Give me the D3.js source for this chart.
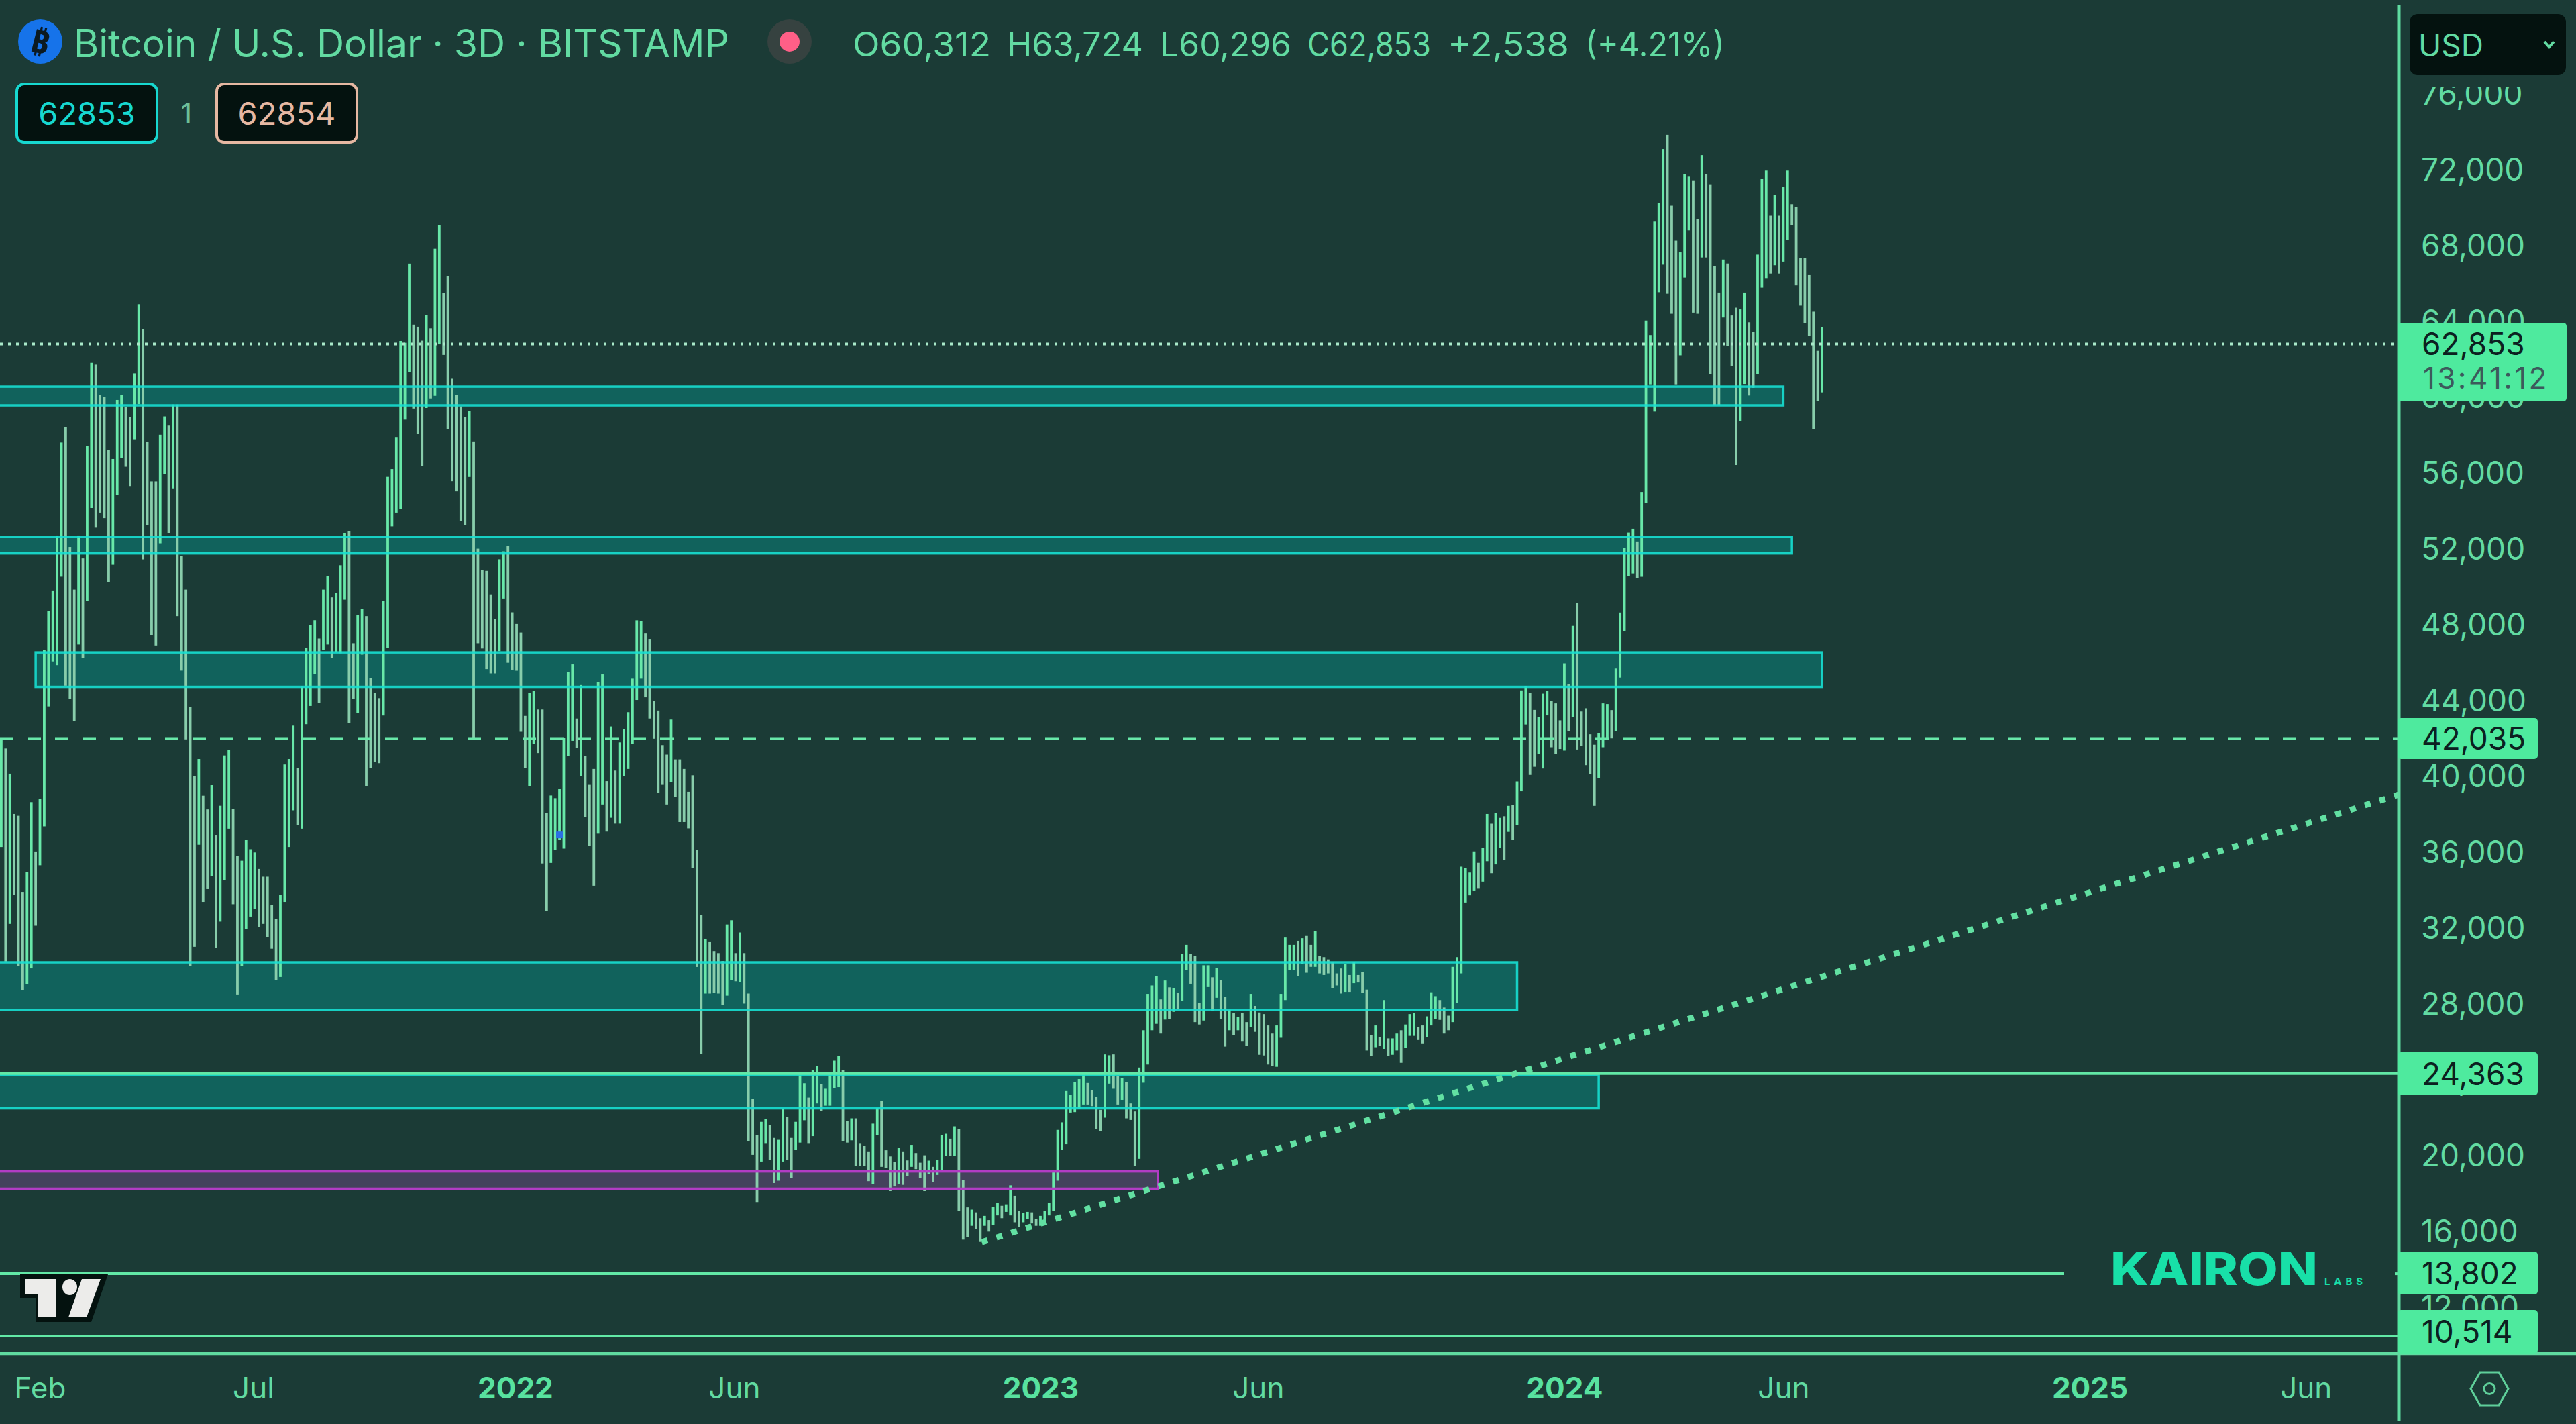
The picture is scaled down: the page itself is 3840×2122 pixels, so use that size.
<!DOCTYPE html>
<html>
<head>
<meta charset="utf-8">
<script src="https://cdn.jsdelivr.net/npm/d3@7"></script>
<style>
  html, body { margin: 0; padding: 0; background: #1b3b36; }
  svg { display: block; }
  text { font-family: Inter, "Noto Sans", sans-serif; }
</style>
</head>
<body>
<div class="chart_contain"></div>
<script>
// 3D bars, highs and lows, oldest first
var highs = [
  41990,41510,40180,38055,37960,33945,34985,38680,36075,38850,46705,48755,49845,52745,57650,58470,52140,49890,52745,51535,
  57455,61850,61755,60160,60040,57260,56780,59895,60160,59510,58975,61295,64945,63615,57700,55595,55595,58060,59025,58540,
  59655,59655,51655,49890,43685,40060,40955,39020,38295,39575,36920,38490,41145,41435,38320,35830,35590,36675,36195,36025,
  35155,34745,34745,33245,32520,33780,40665,40955,42715,40495,44770,46825,48030,48275,47310,49890,50620,49480,49725,51175,
  52865,52985,47065,48565,48880,48490,45205,44455,44165,49290,55835,56245,57940,63010,
  62915,67085,63865,63755,63025,64370,63670,67870,69130,65545,66415,61010,60170,59555,58995,59300,57705,52050,50930,50875,
  49640,48325,51490,51910,52190,48690,48075,47625,43230,44435,44545,43565,43565,38105,39030,38890,39395,42055,45555,45945,
  43090,44855,41130,39590,40430,44995,45415,39785,42670,40345,41830,42530,43425,45190,48270,48215,47570,47290,44015,43510,
  41690,41185,43035,40935,40935,40430,39225,40095,36175,32730,31470,31330,30825,30715,30295,32225,32450,30715,31805,30715,28585,
  23035,21120,21815,21975,21660,20965,20865,22525,22060,20965,21815,24315,23850,23095,24560,24765,23790,23560,24315,25045,
  25290,24535,21855,22000,22000,20660,20535,20255,21720,22550,22915,20315,19990,19685,20450,20255,19780,20600,20170,19660,
  20050,19770,19440,19805,21120,21185,20925,21575,21450,18735,17305,17185,17040,16735,16855,16635,17345,17550,17390,17465,
  18465,17915,17125,17000,17065,17040,16695,16855,17125,17525,19195,21390,21790,23440,23245,23915,24070,24315,23865,23500,
  23120,22450,25375,25330,25375,24220,24110,23915,22790,22365,24680,
  26645,28565,29010,29510,28275,29270,28910,28875,28615,30675,31155,30675,30555,28100,30075,30075,29440,29940,29305,28410,
  27725,27555,27330,27555,27075,28565,27930,27585,27500,26900,26470,26900,28565,31535,31155,31155,31365,31500,31620,31155,
  31875,30555,30505,30385,30245,29645,29905,30125,29560,30245,29560,29730,28790,26385,26900,26300,28240,26215,26215,26470,
  26645,26950,27500,27555,26815,26900,27380,28650,28445,28240,27845,27415,29990,30505,35275,35190,34965,36080,35480,36255,
  38055,37540,38090,37850,37935,38485,38535,39770,44575,44800,44440,43545,43170,44405,44540,44025,43890,42995,46000,44885,
  47975,49175,43460,43630,42260,41710,42310,43890,43855,
  43535,45725,48680,52105,52900,53100,52430,55040,
  64080,63320,69300,70280,73130,73880,70140,68300,67680,71810,71670,71480,69430,72810,71790,71270,66970,65560,67300,67090,
  64350,64760,64670,65560,63990,63490,67560,71550,71990,69610,70690,69610,71140,71990,70220,70080,67390,67390,66480,64550,
  62490,63724
];
var lows = [
  36315,30275,32255,33780,30035,28775,29065,29910,32160,35350,37400,43730,46100,45905,50570,44820,44120,42960,46995,46270,
  49290,54195,53155,53950,53660,50280,51200,54870,56850,56370,55355,57820,59680,51485,53300,47500,46945,52335,55980,52865,
  55230,48490,45615,41990,30035,31050,36435,33415,34090,34795,31000,32375,34575,37280,33295,28535,30035,31965,32640,33055,
  32085,32255,31555,30950,29310,29455,33415,36315,38250,37475,37280,42790,43755,45425,43925,46705,46995,46270,46585,46535,
  49360,42840,44120,43370,46460,39530,40495,40785,40735,43250,46825,53225,53950,54145,
  58855,61345,59440,58100,56390,59470,59975,60115,62830,62270,58350,55605,55075,53505,53280,55830,42055,47065,46785,45695,
  45470,45470,46645,49420,46030,45665,45610,42390,40485,39535,41745,41270,35445,32955,35475,36145,36705,36230,41130,41915,
  41550,40065,37910,36370,34270,37015,38555,37125,37855,37545,37545,40065,40430,41745,44070,45190,44210,43090,42025,39170,
  39590,38555,39730,38945,37630,37630,37295,35195,29985,25400,28585,28585,28615,28585,27970,28475,29285,29230,29175,28055,20780,
  20075,17585,19720,20660,19805,18585,18710,19720,19805,18855,20330,20720,21900,20660,21060,22790,22400,22670,22670,23585,
  23645,20780,20720,20840,19500,19500,19500,18685,18525,21120,19440,19380,18160,18405,18550,18490,18950,19440,19320,18855,
  18160,19075,18650,19015,19220,20025,20025,20010,17125,15600,15720,16330,16150,15480,16330,16025,16390,16880,16735,17065,
  16880,16515,16270,16515,16695,16455,16330,16330,16575,16880,17125,18710,20330,20635,22305,22330,22485,22730,22730,22645,
  21450,21330,22035,23830,23560,22730,22975,22000,21915,19500,19865,
  23880,24840,26645,26985,26470,27210,27245,27620,27760,28190,29820,29100,27075,26950,27160,28925,27675,28360,27245,25785,
  26645,26385,26645,26045,25835,26815,26560,25355,25320,24840,24755,24720,26250,28240,29820,29820,29510,30160,29680,29990,
  29990,29645,29560,29645,28875,29010,28585,28670,28670,29130,29165,28615,25580,25305,25750,25820,25665,25305,25355,25580,
  24930,25735,26350,26350,26130,25955,26300,26900,27245,27195,26470,26645,27075,28100,29645,33385,33765,34020,34110,34485,
  35565,34930,35395,36255,35620,37110,36680,37455,39255,42775,40115,40545,41230,40455,43255,41575,41230,41485,41400,42430,
  43170,41455,41660,40630,40165,38485,39945,41575,42000,
  42045,42420,45250,47685,50615,50740,50490,50565,
  54470,60720,59280,65580,67030,65500,64440,60720,62250,66350,68840,64500,64440,67410,67410,61250,59600,59600,64240,62750,
  61700,56460,58770,60740,60130,60540,61270,65820,66290,66560,67000,66560,67190,68330,69100,65940,64870,63960,63290,58360,
  59830,60296
];
var lastBar = new Date(2024, 6, 2);
var barDays = 3;

var priceTicks = [76000,72000,68000,64000,60000,56000,52000,48000,44000,40000,36000,32000,28000,24000,20000,16000,12000];
var timeTicks = [
  [new Date(2021,1,3), "Feb"], [new Date(2021,6,2), "Jul"], [new Date(2022,0,1), "2022"], [new Date(2022,5,3), "Jun"],
  [new Date(2023,0,3), "2023"], [new Date(2023,5,4), "Jun"], [new Date(2024,0,4), "2024"], [new Date(2024,5,5), "Jun"],
  [new Date(2025,0,5), "2025"], [new Date(2025,5,5), "Jun"]
];
var tickDates = timeTicks.map(d => d[0]);
var tickNames = timeTicks.map(d => d[1]);

// drawn zones: from, to, top price, bottom price
var zoneFrom = [new Date(2020,5,1), new Date(2020,5,1), new Date(2021,0,31), new Date(2020,5,1), new Date(2020,5,1)];
var zoneTo = [new Date(2024,5,5), new Date(2024,5,11), new Date(2024,6,2), new Date(2023,11,2), new Date(2024,0,28)];
var zoneTop = [60600, 52670, 46580, 30230, 24300];
var zoneBottom = [59610, 51800, 44760, 27715, 22530];
var purpleFrom = new Date(2020,5,1), purpleTo = new Date(2023,2,26), purpleTop = 19200, purpleBottom = 18285;

var lastClose = 62853, lastCountdown = "13:41:12";
var dashedLevel = 42035;
var levels = [24363, 13802, 10514];
var trendDates = [new Date(2022,10,23), new Date(2025,7,9)];
var trendPrices = [15466, 39078];

var ohlcLabels = ["O60,312", "H63,724", "L60,296", "C62,853", "+2,538", "(+4.21%)"];

var svg_width = 3840, svg_height = 2122;
var axisX = 3576, axisY = 2017;
var green = "#68e8a9", greyBar = "#88cdab", labelGreen = "#4eea9e", cyan = "#17dfd2", ink = "#0c2020", boxFill = "#04120f";

var svg = d3.select(".chart_contain")
            .append("svg")
            .attr("width", svg_width)
            .attr("height", svg_height)
            .style("background", "#1b3b36");

var bars = highs.map((h, i) => ({
  date: d3.timeDay.offset(lastBar, -barDays * (highs.length - 1 - i)),
  high: h,
  low: lows[i]
}));

var x = d3.scaleTime()
          .domain([bars[0].date, lastBar])
          .range([1.9, 2716]);

var y = d3.scaleLinear()
          .domain([72000, 10514])
          .range([254, 1991]);

var plot = svg.append("g");

// zone fills go under the bars, their edges on top
plot.selectAll(".zoneFill")
    .data(zoneTop)
    .enter()
    .append("rect")
    .attr("class", "zoneFill")
    .attr("x", (d, i) => x(zoneFrom[i]))
    .attr("y", d => y(d))
    .attr("width", (d, i) => x(zoneTo[i]) - x(zoneFrom[i]))
    .attr("height", (d, i) => y(zoneBottom[i]) - y(d))
    .style("fill", "#11625c");

plot.append("rect")
    .attr("x", x(purpleFrom))
    .attr("y", y(purpleTop))
    .attr("width", x(purpleTo) - x(purpleFrom))
    .attr("height", y(purpleBottom) - y(purpleTop))
    .style("fill", "#43425c");

plot.selectAll(".bar")
    .data(bars)
    .enter()
    .append("rect")
    .attr("class", "bar")
    .attr("x", d => x(d.date) - 1.9)
    .attr("y", d => y(d.high))
    .attr("width", 3.8)
    .attr("height", d => y(d.low) - y(d.high))
    .style("fill", (d, i) => (i > 0 && d.high + d.low < bars[i-1].high + bars[i-1].low) ? greyBar : green);

plot.selectAll(".zoneEdge")
    .data(zoneTop)
    .enter()
    .append("rect")
    .attr("class", "zoneEdge")
    .attr("x", (d, i) => x(zoneFrom[i]))
    .attr("y", d => y(d))
    .attr("width", (d, i) => x(zoneTo[i]) - x(zoneFrom[i]))
    .attr("height", (d, i) => y(zoneBottom[i]) - y(d))
    .style("fill", "none")
    .style("stroke", cyan)
    .style("stroke-width", 3.5)
    .style("stroke-opacity", 0.9);

plot.append("rect")
    .attr("x", x(purpleFrom))
    .attr("y", y(purpleTop))
    .attr("width", x(purpleTo) - x(purpleFrom))
    .attr("height", y(purpleBottom) - y(purpleTop))
    .style("fill", "none")
    .style("stroke", "#b23cc4")
    .style("stroke-width", 3.5);

// little blue marker left on the chart
plot.append("rect")
    .attr("x", x(new Date(2022,1,1)) - 5)
    .attr("y", y(36950) - 5)
    .attr("width", 10)
    .attr("height", 10)
    .style("fill", "#2c6fe3");

// price lines
plot.append("line")
    .attr("x1", 0).attr("x2", axisX)
    .attr("y1", y(lastClose)).attr("y2", y(lastClose))
    .style("stroke", "#a9e9c9")
    .style("stroke-width", 4)
    .style("stroke-dasharray", "4 8");

plot.append("line")
    .attr("x1", 0).attr("x2", axisX)
    .attr("y1", y(dashedLevel)).attr("y2", y(dashedLevel))
    .style("stroke", green)
    .style("stroke-width", 4)
    .style("stroke-dasharray", "20 21");

plot.selectAll(".level")
    .data(levels)
    .enter()
    .append("line")
    .attr("class", "level")
    .attr("x1", 0)
    .attr("x2", d => d == 13802 ? 3077 : axisX)
    .attr("y1", d => y(d))
    .attr("y2", d => y(d))
    .style("stroke", "#62e8a6")
    .style("stroke-width", 4);

plot.append("line")
    .attr("x1", 3570).attr("x2", axisX)
    .attr("y1", y(13802)).attr("y2", y(13802))
    .style("stroke", "#62e8a6")
    .style("stroke-width", 4);

plot.append("path")
    .attr("d", d3.line().x((d, i) => x(trendDates[i])).y(d => y(d))(trendPrices))
    .style("fill", "none")
    .style("stroke", "#62e0a2")
    .style("stroke-width", 9)
    .style("stroke-dasharray", "9 14");

// axes
var yAxis = d3.axisRight(y)
              .tickValues(priceTicks)
              .tickFormat(d3.format(","))
              .tickSize(0)
              .tickPadding(33);

var yAxisG = svg.append("g")
                .attr("class", "y axis")
                .attr("transform", "translate(" + axisX + ",0)")
                .call(yAxis);
yAxisG.select(".domain").remove();
yAxisG.selectAll("text")
      .style("font-size", "46px")
      .style("fill", "#62dba2");

var xAxis = d3.axisBottom(x)
              .tickValues(tickDates)
              .tickFormat((d, i) => tickNames[i])
              .tickSize(0)
              .tickPadding(36);

var xAxisG = svg.append("g")
                .attr("class", "x axis")
                .attr("transform", "translate(0," + axisY + ")")
                .call(xAxis);
xAxisG.select(".domain").remove();
xAxisG.selectAll("text")
      .style("font-size", "44px")
      .style("font-weight", (d, i) => /^\d/.test(tickNames[i]) ? 700 : 400)
      .style("fill", (d, i) => /^\d/.test(tickNames[i]) ? "#58e29f" : "#62dba2");

svg.append("line")
   .attr("x1", axisX).attr("x2", axisX)
   .attr("y1", 7).attr("y2", 2117)
   .style("stroke", "#5fdba0")
   .style("stroke-width", 5);

svg.append("line")
   .attr("x1", 0).attr("x2", svg_width)
   .attr("y1", axisY).attr("y2", axisY)
   .style("stroke", "#5fdba0")
   .style("stroke-width", 4.5);

// price labels on the scale
var tagLevels = [dashedLevel].concat(levels);
var tagTops = [1070, 1568, 1865, 1952];
var tagBottoms = [1131, 1632, 1929, 2017];

svg.selectAll(".tag")
   .data(tagLevels)
   .enter()
   .append("rect")
   .attr("class", "tag")
   .attr("x", axisX - 2)
   .attr("y", (d, i) => tagTops[i])
   .attr("width", 209)
   .attr("height", (d, i) => tagBottoms[i] - tagTops[i])
   .attr("rx", 5)
   .style("fill", labelGreen);

svg.selectAll(".tagText")
   .data(tagLevels)
   .enter()
   .append("text")
   .attr("class", "tagText")
   .attr("x", 3610)
   .attr("y", (d, i) => (tagTops[i] + tagBottoms[i]) / 2)
   .attr("dy", "0.36em")
   .text(d3.format(","))
   .style("font-size", "46px")
   .style("fill", ink);

svg.append("rect")
   .attr("x", axisX - 2).attr("y", 481)
   .attr("width", 252).attr("height", 117)
   .attr("rx", 5)
   .style("fill", labelGreen);

svg.append("text")
   .attr("x", 3610).attr("y", 512).attr("dy", "0.36em")
   .text(d3.format(",")(lastClose))
   .style("font-size", "46px")
   .style("fill", ink);

svg.append("text")
   .attr("x", 3612).attr("y", 563).attr("dy", "0.36em")
   .text(lastCountdown)
   .style("font-size", "44px")
   .style("letter-spacing", "3.4px")
   .style("fill", "#3c5a5c");

// header
svg.append("rect")
   .attr("x", axisX + 3).attr("y", 0)
   .attr("width", 264).attr("height", 129)
   .style("fill", "#1b3b36");

svg.append("rect")
   .attr("x", 3592).attr("y", 21)
   .attr("width", 233).attr("height", 91)
   .attr("rx", 12)
   .style("fill", boxFill);

svg.append("text")
   .attr("x", 3605).attr("y", 67).attr("dy", "0.36em")
   .text("USD")
   .style("font-size", "46px")
   .style("fill", "#62dba2");

svg.append("path")
   .attr("d", "M3793 62 L3800 70 L3807 62")
   .style("fill", "none")
   .style("stroke", "#62dba2")
   .style("stroke-width", 4);

svg.append("circle")
   .attr("cx", 60).attr("cy", 62).attr("r", 33)
   .style("fill", "#1673ea");

svg.append("text")
   .attr("x", 60).attr("y", 62).attr("dy", "0.36em")
   .attr("text-anchor", "middle")
   .attr("transform", "rotate(14 60 62)")
   .text("₿")
   .style("font-family", "'Noto Sans', 'DejaVu Sans', sans-serif")
   .style("font-weight", 700)
   .style("font-size", "48px")
   .style("fill", "#0b1a22");

svg.append("text")
   .attr("x", 110).attr("y", 64).attr("dy", "0.36em")
   .text("Bitcoin / U.S. Dollar · 3D · BITSTAMP")
   .style("font-size", "57px")
   .style("fill", "#62dba2");

svg.append("circle")
   .attr("cx", 1177).attr("cy", 62).attr("r", 33)
   .style("fill", "#364240");

svg.append("circle")
   .attr("cx", 1177).attr("cy", 62).attr("r", 15)
   .style("fill", "#ff5f87");

var ohlcX = [1271, 1501, 1729, 1949, 2158, 2363];
var ohlcWidth = [206, 203, 196, 184, 181, 208];

svg.selectAll(".ohlc")
   .data(ohlcLabels)
   .enter()
   .append("text")
   .attr("class", "ohlc")
   .attr("x", (d, i) => ohlcX[i])
   .attr("y", 66)
   .attr("dy", "0.36em")
   .attr("textLength", (d, i) => ohlcWidth[i])
   .attr("lengthAdjust", "spacingAndGlyphs")
   .text(d => d)
   .style("font-size", "50px")
   .style("fill", "#62dba2");

var boxX = [25, 323], boxLabel = ["62853", "62854"], boxColor = ["#17d8d0", "#e6b8a2"];

svg.selectAll(".quoteBox")
   .data(boxLabel)
   .enter()
   .append("rect")
   .attr("class", "quoteBox")
   .attr("x", (d, i) => boxX[i])
   .attr("y", 125)
   .attr("width", 209)
   .attr("height", 87)
   .attr("rx", 11)
   .style("fill", boxFill)
   .style("stroke", (d, i) => boxColor[i])
   .style("stroke-width", 4);

svg.selectAll(".quoteText")
   .data(boxLabel)
   .enter()
   .append("text")
   .attr("class", "quoteText")
   .attr("x", (d, i) => boxX[i] + 104.5)
   .attr("y", 169)
   .attr("dy", "0.36em")
   .attr("text-anchor", "middle")
   .text(d => d)
   .style("font-size", "47px")
   .style("fill", (d, i) => boxColor[i]);

svg.append("text")
   .attr("x", 278).attr("y", 169).attr("dy", "0.36em")
   .attr("text-anchor", "middle")
   .text("1")
   .style("font-size", "40px")
   .style("fill", "#6fbf99");

// TradingView mark
svg.append("path")
   .attr("d", "M30 1899 L161 1899 L136 1970 L53 1970 L53 1934 L30 1934 Z")
   .style("fill", "#04120f");
svg.append("path")
   .attr("d", "M37 1906 L83 1906 L83 1963 L57 1963 L57 1928 L37 1928 Z M122 1906 L150 1906 L129 1963 L102 1963 Z")
   .style("fill", "#ececea");
svg.append("ellipse")
   .attr("cx", 104).attr("cy", 1918).attr("rx", 11).attr("ry", 12)
   .style("fill", "#ececea");

// watermark
svg.append("text")
   .attr("x", 3146).attr("y", 1915)
   .attr("textLength", 309)
   .attr("lengthAdjust", "spacingAndGlyphs")
   .text("KAIRON")
   .style("font-size", "67px")
   .style("font-weight", 800)
   .style("fill", "#18e0a8");

svg.append("text")
   .attr("x", 3465).attr("y", 1915)
   .attr("textLength", 57)
   .text("LABS")
   .style("font-size", "15px")
   .style("font-weight", 700)
   .style("fill", "#18e0a8");

// settings icon
svg.append("path")
   .attr("d", "M3683 2069.5 L3697 2045 L3725 2045 L3739 2069.5 L3725 2094 L3697 2094 Z")
   .style("fill", "none")
   .style("stroke", "#5fcf9a")
   .style("stroke-width", 3);
svg.append("circle")
   .attr("cx", 3711).attr("cy", 2069.5).attr("r", 8)
   .style("fill", "none")
   .style("stroke", "#5fcf9a")
   .style("stroke-width", 3);
</script>
</body>
</html>
